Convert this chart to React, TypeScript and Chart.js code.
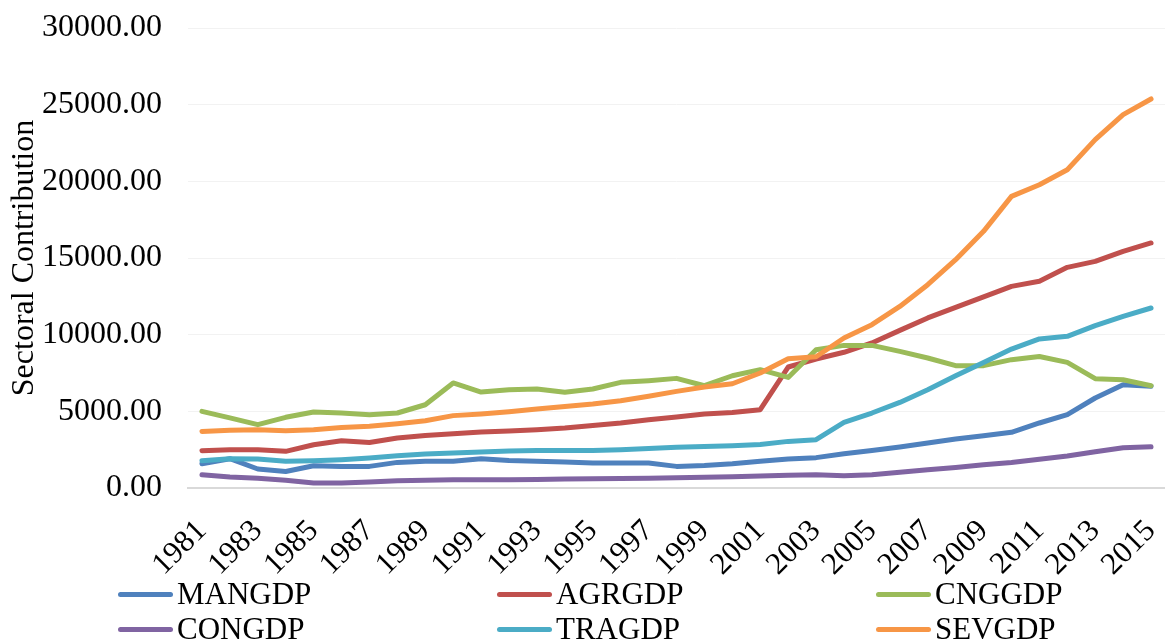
import React, { useEffect, useRef } from "react";
import { Chart, registerables } from "chart.js";

Chart.register(...registerables);

const years = [
  "1981", "1982", "1983", "1984", "1985", "1986", "1987", "1988", "1989", "1990",
  "1991", "1992", "1993", "1994", "1995", "1996", "1997", "1998", "1999", "2000",
  "2001", "2002", "2003", "2004", "2005", "2006", "2007", "2008", "2009", "2010",
  "2011", "2012", "2013", "2014", "2015",
];

const MANGDP = [1580, 1910, 1240, 1080, 1450, 1410, 1410, 1670, 1740, 1740, 1910, 1800, 1740, 1700, 1630, 1630, 1630, 1410, 1470, 1580, 1740, 1890, 1980, 2240, 2450, 2670, 2930, 3190, 3410, 3630, 4240, 4780, 5870, 6740, 6630];
const AGRGDP = [2430, 2500, 2500, 2390, 2820, 3080, 2970, 3260, 3430, 3540, 3650, 3720, 3800, 3910, 4080, 4240, 4450, 4630, 4830, 4930, 5110, 7890, 8410, 8850, 9460, 10280, 11090, 11780, 12460, 13150, 13480, 14390, 14780, 15430, 15980];
const CNGGDP = [5000, 4570, 4130, 4610, 4960, 4890, 4780, 4890, 5430, 6850, 6260, 6400, 6460, 6240, 6460, 6890, 7000, 7150, 6670, 7320, 7720, 7210, 9020, 9300, 9300, 8910, 8480, 7980, 7980, 8370, 8580, 8190, 7130, 7060, 6670];
const CONGDP = [870, 720, 630, 500, 330, 330, 390, 480, 500, 540, 540, 540, 560, 580, 600, 620, 640, 670, 700, 730, 780, 830, 870, 800, 870, 1020, 1190, 1340, 1520, 1670, 1870, 2090, 2370, 2630, 2690];
const TRAGDP = [1780, 1910, 1890, 1740, 1780, 1850, 1960, 2110, 2220, 2280, 2350, 2410, 2450, 2450, 2450, 2500, 2580, 2650, 2710, 2760, 2840, 3040, 3150, 4280, 4890, 5580, 6410, 7320, 8190, 9060, 9720, 9890, 10590, 11190, 11740];
const SEVGDP = [3690, 3760, 3800, 3740, 3800, 3950, 4020, 4190, 4390, 4720, 4830, 4980, 5150, 5320, 5480, 5690, 5980, 6300, 6590, 6800, 7500, 8430, 8560, 9780, 10650, 11840, 13260, 14890, 16740, 19020, 19780, 20760, 22720, 24350, 25370];

const seriesNames = ["MANGDP", "AGRGDP", "CNGGDP", "CONGDP", "TRAGDP", "SEVGDP"];
const seriesData = [MANGDP, AGRGDP, CNGGDP, CONGDP, TRAGDP, SEVGDP];
const seriesColors = ["#4F81BD", "#C0504D", "#9BBB59", "#8064A2", "#4BACC6", "#F79646"];

const yTitle = "Sectoral Contribution";
const FONT = "'Liberation Serif', 'Times New Roman', serif";

export default function App() {
  const canvasRef = useRef<HTMLCanvasElement | null>(null);

  useEffect(() => {
    const canvas = canvasRef.current;
    if (!canvas) return;
    const chart = new Chart(canvas, {
      type: "line",
      data: {
        labels: years,
        datasets: seriesNames.map((name, i) => ({
          label: name,
          data: seriesData[i],
          borderColor: seriesColors[i],
          backgroundColor: seriesColors[i],
          borderWidth: 5,
          pointRadius: 0,
          pointHoverRadius: 0,
          tension: 0,
          fill: false,
          borderCapStyle: "round" as const,
          borderJoinStyle: "round" as const,
          order: seriesNames.length - 1 - i,
        })),
      },
      options: {
        animation: false,
        responsive: false,
        maintainAspectRatio: false,
        layout: { padding: { top: 28, right: -11, bottom: 64, left: 0 } },
        plugins: {
          legend: { display: false },
          tooltip: { enabled: false },
          title: { display: false },
        },
        scales: {
          x: {
            type: "category",
            offset: true,
            grid: { display: false, drawTicks: false },
            border: { display: true, color: "#d9d9d9", width: 2 },
            ticks: {
              autoSkip: false,
              minRotation: 45,
              maxRotation: 45,
              padding: 25,
              color: "#000",
              font: { family: FONT, size: 31 },
              callback: function (_v: any, index: number) {
                return index % 2 === 0 ? years[index] : null;
              },
            },
            afterFit: (scale: any) => {
              scale.height = 88;
              scale.paddingLeft = 0;
              scale.paddingRight = 0;
            },
          },
          y: {
            type: "linear",
            min: 0,
            max: 30000,
            border: { display: false },
            grid: {
              drawTicks: false,
              color: (ctx: any) => (ctx.tick && ctx.tick.value === 0 ? "#d9d9d9" : "#f2f2f2"),
              lineWidth: (ctx: any) => (ctx.tick && ctx.tick.value === 0 ? 2 : 1),
            },
            ticks: {
              stepSize: 5000,
              padding: 26,
              color: "#000",
              font: { family: FONT, size: 32 },
              callback: (v: any) => Number(v).toFixed(2),
            },
            title: {
              display: true,
              text: yTitle,
              color: "#000",
              font: { family: FONT, size: 32 },
              padding: { top: 5, bottom: 0 },
            },
            afterFit: (scale: any) => {
              scale.width = 188;
              scale.paddingTop = 0;
              scale.paddingBottom = 0;
            },
          },
        },
      },
    });
    return () => chart.destroy();
  }, []);

  const legendLeft = [118, 497, 876];
  const legendRowCenter = [594, 629];

  return (
    <div style={{ position: "fixed", left: 0, top: 0, width: 1165, height: 640, background: "#fff", overflow: "hidden" }}>
      <canvas ref={canvasRef} width={1165} height={640} style={{ position: "absolute", left: 0, top: 0, width: 1165, height: 640 }} />
      {seriesNames.map((name, i) => {
        const col = i % 3;
        const row = Math.floor(i / 3);
        return (
          <div
            key={name}
            style={{
              position: "absolute",
              left: legendLeft[col],
              top: legendRowCenter[row] - 18,
              height: 36,
              display: "flex",
              alignItems: "center",
              fontFamily: FONT,
              fontSize: 31,
              color: "#000",
              lineHeight: "36px",
              whiteSpace: "nowrap",
            }}
          >
            <span
              style={{
                display: "inline-block",
                width: 55,
                height: 5,
                borderRadius: 3,
                background: seriesColors[i],
                marginRight: 4,
              }}
            />
            <span>{name}</span>
          </div>
        );
      })}
    </div>
  );
}
